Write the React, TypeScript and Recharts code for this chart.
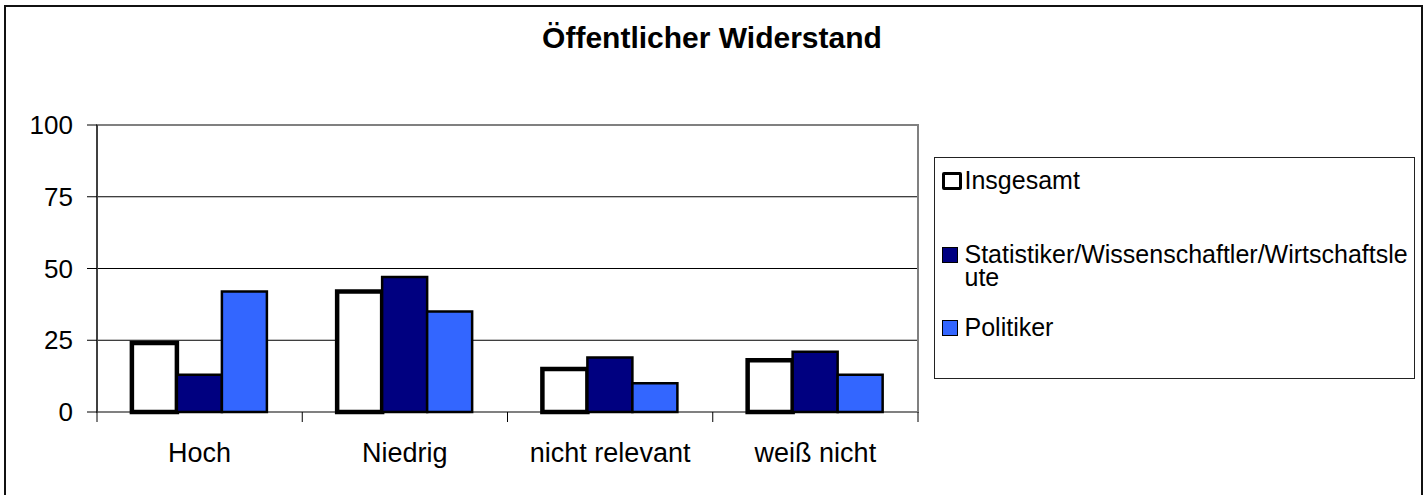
import React from 'react';
import { BarChart, Bar, XAxis, YAxis, CartesianGrid, Legend, ReferenceArea } from 'recharts';

const CATEGORIES = ['Hoch', 'Niedrig', 'nicht relevant', 'weiß nicht'];
const INSGESAMT = [24, 42, 15, 18];
const STATISTIKER = [13, 47, 19, 21];
const POLITIKER = [42, 35, 10, 13];
const Y_TICKS = [0, 25, 50, 75, 100];
const SERIES_NAMES = ['Insgesamt', 'Statistiker/Wissenschaftler/Wirtschaftsleute', 'Politiker'];
const TITLE = 'Öffentlicher Widerstand';

const data = CATEGORIES.map((name, i) => ({
  name,
  insgesamt: INSGESAMT[i],
  statistiker: STATISTIKER[i],
  politiker: POLITIKER[i],
}));

const FONT = '"Liberation Sans", Arial, sans-serif';
const WIDTH = 1428;
const HEIGHT = 495;
const MARGIN = { top: 125, right: 510, bottom: 23, left: 7 };
const Y_AXIS_W = 90;
const X_AXIS_H = 60;
const PLOT_W = WIDTH - MARGIN.left - MARGIN.right - Y_AXIS_W;
const BAND = PLOT_W / CATEGORIES.length;
const X_TICK_MARGIN = 21;

const SERIES = [
  { key: 'insgesamt', fill: '#ffffff', strokeWidth: 4.5 },
  { key: 'statistiker', fill: '#000080', strokeWidth: 2.5 },
  { key: 'politiker', fill: '#3366ff', strokeWidth: 2.5 },
];

// legend entry placement inside the box (Excel spacing is uneven)
const LEGEND_TOPS = [11, 85, 158];

function XTick(props: any) {
  const { x, y, payload, index } = props;
  const half = BAND / 2;
  const top = y - X_TICK_MARGIN - 10;
  return (
    <g>
      <line x1={x - half} x2={x - half} y1={top} y2={top + 10} stroke="#000" />
      {index === CATEGORIES.length - 1 && (
        <line x1={x + half} x2={x + half} y1={top} y2={top + 10} stroke="#000" />
      )}
      <text x={x} y={y} dy="0.71em" textAnchor="middle" fontSize={27} fontFamily={FONT} fill="#000">
        {payload.value}
      </text>
    </g>
  );
}

function LegendBox(props: any) {
  const payload = props.payload || [];
  // keep series order, not the alphabetical legend order
  const items = SERIES.map((s) => ({ s, entry: payload.find((e: any) => e.dataKey === s.key) })).filter(
    (d) => d.entry
  );
  return (
    <div
      style={{
        position: 'relative',
        width: 481,
        height: 222,
        boxSizing: 'border-box',
        border: '1.5px solid #222',
        background: '#fff',
        fontFamily: FONT,
        fontSize: 25,
        lineHeight: '23px',
        color: '#000',
      }}
    >
      {items.map(({ s, entry }, i) => {
        const big = s.strokeWidth > 3;
        return (
          <div key={s.key} style={{ position: 'absolute', left: 6.5, top: LEGEND_TOPS[i], display: 'flex' }}>
            <div style={{ width: 23, height: 23, display: 'flex', alignItems: 'center' }}>
              <div
                style={{
                  boxSizing: 'border-box',
                  width: big ? 20 : 16,
                  height: big ? 18 : 16,
                  background: s.fill,
                  border: `${big ? 3.5 : 1.5}px solid #000`,
                  borderRadius: big ? 2 : 0,
                }}
              />
            </div>
            <div style={{ width: 450, wordBreak: 'break-all' }}>{entry.value}</div>
          </div>
        );
      })}
    </div>
  );
}

export default function App() {
  return (
    <div style={{ position: 'absolute', left: 0, top: 0, width: WIDTH, height: HEIGHT, background: '#fff', overflow: 'hidden' }}>
      <div
        style={{
          position: 'absolute',
          left: 4,
          top: 5,
          width: 1419,
          height: 520,
          boxSizing: 'border-box',
          border: '2px solid #111',
        }}
      />
      <div
        style={{
          position: 'absolute',
          left: 0,
          top: 23,
          width: 1424,
          textAlign: 'center',
          fontFamily: FONT,
          fontWeight: 'bold',
          fontSize: 30,
          lineHeight: '30px',
          color: '#000',
        }}
      >
        {TITLE}
      </div>
      <div style={{ position: 'absolute', left: 0, top: 0 }}>
        <BarChart
          width={WIDTH}
          height={HEIGHT}
          data={data}
          margin={MARGIN}
          barCategoryGap="17%"
          barGap={0}
        >
          <CartesianGrid vertical={false} stroke="#000" strokeWidth={1} />
          <ReferenceArea y1={0} y2={100} fill="none" stroke="#808080" strokeWidth={2} ifOverflow="visible" />
          <XAxis
            dataKey="name"
            height={X_AXIS_H}
            axisLine={false}
            tickLine={false}
            tickSize={10}
            tickMargin={X_TICK_MARGIN}
            tick={<XTick />}
            interval={0}
          />
          <YAxis
            domain={[0, 100]}
            ticks={Y_TICKS}
            width={Y_AXIS_W}
            axisLine={{ stroke: '#000', strokeWidth: 1 }}
            tickLine={{ stroke: '#000' }}
            tickSize={10}
            tickMargin={14}
            tick={{ fontSize: 26, fontFamily: FONT, fill: '#000' }}
          />
          <Legend
            layout="vertical"
            align="center"
            verticalAlign="middle"
            wrapperStyle={{ left: 934, top: 157, width: 481, height: 222 }}
            content={<LegendBox />}
          />
          {SERIES.map((s, i) => (
            <Bar
              key={s.key}
              dataKey={s.key}
              name={SERIES_NAMES[i]}
              fill={s.fill}
              stroke="#000"
              strokeWidth={s.strokeWidth}
              isAnimationActive={false}
            />
          ))}
        </BarChart>
      </div>
    </div>
  );
}
